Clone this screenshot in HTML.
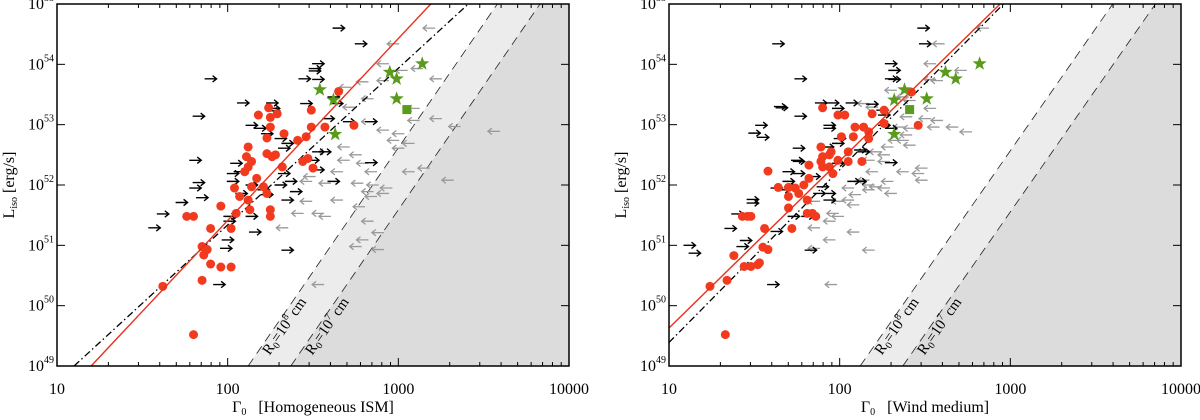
<!DOCTYPE html>
<html><head><meta charset="utf-8"><style>
html,body{margin:0;padding:0;background:#fff;overflow:hidden;}
svg{display:block;font-family:"Liberation Serif",serif;}
</style></head><body>
<svg id="chart" width="1200" height="420" viewBox="0 0 1200 420" xmlns="http://www.w3.org/2000/svg"></svg>
<script>
// ---- data (log10 Gamma0, log10 L_iso) ----
const xTicks = [10, 100, 1000, 10000];
const yTickExps = [49, 50, 51, 52, 53, 54, 55];
const panelTitles = ["[Homogeneous ISM]", "[Wind medium]"];

const leftRed = [[1.62,50.32],[1.80,49.52],[1.85,50.42],[1.85,50.98],[1.88,50.93],[1.86,50.84],[1.90,50.69],[1.96,50.64],[2.02,50.64],[1.90,51.28],[1.96,51.65],[2.02,51.28],[1.76,51.48],[1.80,51.48],[2.18,53.16],[2.24,53.28],[2.25,53.12],[2.29,53.18],[2.25,52.96],[2.23,52.78],[2.12,52.63],[2.11,52.47],[2.14,52.39],[2.12,52.30],[2.10,52.22],[2.17,52.11],[2.04,51.95],[2.07,51.81],[2.12,51.75],[2.13,51.59],[2.05,51.53],[2.14,51.97],[2.21,51.97],[2.23,51.86],[2.25,51.59],[2.25,51.48],[2.26,52.47],[2.28,52.50],[2.32,52.30],[2.33,52.85],[2.41,52.74],[2.46,52.80],[2.44,52.39],[2.47,52.44],[2.50,52.28],[2.49,53.24],[2.49,52.96],[2.57,52.96],[2.65,53.55],[2.74,52.99],[2.23,52.52]];
const leftBlack = [[2.65,54.60],[2.78,54.34],[1.90,53.76],[1.83,53.14],[2.53,54.01],[2.51,53.93],[2.51,53.89],[2.45,53.76],[2.53,53.75],[2.09,53.36],[2.26,53.36],[2.27,53.27],[2.27,53.23],[2.14,52.99],[2.19,52.94],[2.23,52.85],[2.31,52.77],[2.35,52.69],[2.33,52.61],[2.53,52.55],[2.05,52.36],[2.07,52.22],[2.03,52.19],[2.03,52.06],[2.08,51.86],[2.14,52.00],[2.21,51.92],[2.23,51.84],[2.33,52.19],[2.37,52.06],[2.31,52.00],[2.40,51.89],[2.35,51.75],[1.81,52.41],[1.83,52.04],[1.81,51.95],[1.85,51.79],[1.73,51.71],[1.62,51.52],[1.57,51.29],[2.01,51.48],[2.01,51.40],[2.14,51.48],[2.16,51.22],[2.00,51.09],[1.99,50.95],[2.35,50.92],[1.95,50.35],[2.62,52.06],[2.84,52.37],[2.62,53.46],[2.59,53.10],[2.71,53.05],[2.84,53.05],[2.57,52.55],[2.50,52.41],[2.53,52.25],[2.46,53.35],[2.64,53.35]];
const leftGray = [[3.18,54.60],[2.97,54.34],[2.91,54.01],[3.11,53.93],[3.02,53.90],[3.22,53.76],[2.91,53.73],[2.79,53.71],[2.69,53.62],[2.82,53.43],[2.71,53.29],[3.09,53.27],[3.22,53.10],[3.09,53.07],[3.33,52.97],[3.56,52.89],[2.91,52.91],[2.82,53.05],[3.00,52.85],[3.06,52.69],[3.00,52.61],[2.97,52.74],[2.68,52.63],[2.57,52.55],[2.75,52.50],[2.68,52.41],[2.79,52.36],[3.06,52.22],[3.15,52.28],[3.29,52.08],[2.84,52.22],[2.64,52.22],[2.48,52.14],[2.46,52.06],[2.57,52.03],[2.76,52.03],[2.85,52.00],[2.93,51.95],[2.82,51.89],[2.84,51.81],[2.64,51.75],[2.46,51.73],[2.77,51.64],[2.82,51.40],[2.53,51.53],[2.57,51.48],[2.32,51.29],[2.79,51.09],[2.88,51.21],[2.75,50.98],[2.88,50.93],[2.53,50.35],[2.41,51.53],[2.91,51.86]];
const leftStars = [[3.14,54.01],[2.95,53.87],[2.99,53.76],[2.54,53.58],[2.62,53.41],[2.99,53.43],[2.63,52.84]];
const leftSquare = [[3.05,53.25]];
const leftRedFit = [[1.20,49.0],[3.19,55.0]];
const leftDashFit = [[1.10,49.0],[3.41,55.0]];
const leftR8 = [[2.12,49.0],[3.58,55.0]];
const leftR7 = [[2.37,49.0],[3.83,55.0]];

const rightRed = [[1.24,50.32],[1.33,49.52],[1.34,50.42],[1.38,50.83],[1.44,50.65],[1.48,50.65],[1.52,50.68],[1.53,50.71],[1.55,50.97],[1.58,50.93],[1.56,51.28],[1.72,51.28],[1.43,51.48],[1.46,51.48],[1.48,51.48],[1.58,52.23],[1.64,51.96],[1.70,51.96],[1.70,51.81],[1.70,51.62],[1.76,51.86],[1.81,51.75],[1.74,51.95],[1.79,52.00],[1.82,52.11],[1.82,52.33],[1.90,53.28],[1.89,52.63],[1.90,52.47],[1.89,52.39],[1.94,52.50],[1.95,52.55],[1.99,52.41],[1.99,53.16],[2.03,53.16],[2.01,52.80],[2.05,52.55],[2.05,52.39],[2.08,52.80],[2.09,52.96],[2.14,52.96],[2.17,52.88],[2.17,52.77],[2.19,53.18],[2.26,53.24],[2.26,53.02],[2.13,52.39],[1.81,51.53],[1.84,51.53],[1.86,51.48],[1.90,52.30],[1.94,52.30],[1.96,52.19],[2.46,52.99],[2.42,53.54]];
const rightBlack = [[2.49,54.60],[1.64,54.34],[2.50,54.34],[1.77,53.76],[2.30,54.01],[2.32,53.90],[2.30,53.76],[2.32,53.75],[1.77,53.14],[1.54,52.99],[1.50,52.86],[1.55,52.79],[1.96,53.36],[2.07,53.36],[1.89,53.36],[1.99,53.27],[1.65,53.30],[1.66,53.28],[1.94,52.99],[1.94,52.94],[2.19,53.34],[2.25,53.24],[2.26,53.16],[2.26,52.99],[2.30,52.94],[2.00,52.77],[1.99,52.69],[1.93,52.63],[1.76,52.61],[2.12,52.58],[2.14,52.55],[1.75,52.41],[1.76,52.39],[1.99,52.36],[2.30,52.37],[1.70,52.22],[1.76,52.19],[1.70,52.06],[1.71,51.97],[1.67,51.92],[1.90,51.97],[1.88,51.86],[1.94,51.86],[1.94,51.75],[1.63,51.95],[1.49,51.76],[1.49,51.70],[1.40,51.52],[1.36,51.28],[1.45,51.08],[1.43,50.98],[1.12,51.00],[1.15,50.87],[1.83,50.92],[1.61,50.35],[2.08,52.06],[2.12,52.06],[1.73,51.48],[1.81,51.48],[1.63,51.23],[1.85,52.14]];
const rightGray = [[2.84,54.60],[2.58,54.34],[2.53,54.01],[2.53,53.75],[2.57,53.73],[2.71,53.90],[2.30,53.57],[2.37,53.46],[2.41,53.40],[2.53,53.27],[2.14,53.35],[2.19,53.29],[2.39,53.13],[2.50,53.10],[2.57,53.07],[2.55,52.96],[2.66,52.96],[2.74,52.88],[2.35,52.96],[2.41,52.94],[2.39,52.83],[2.37,52.74],[2.41,52.66],[2.32,52.74],[2.28,52.63],[2.21,52.55],[2.26,52.50],[2.17,52.41],[2.26,52.39],[2.19,52.22],[2.37,52.22],[2.48,52.28],[2.48,52.08],[2.46,52.19],[2.14,52.08],[2.17,52.00],[2.21,51.97],[2.26,51.95],[2.30,51.86],[2.05,51.95],[2.09,51.84],[2.05,51.75],[1.99,51.73],[2.08,51.67],[1.96,51.53],[1.99,51.48],[1.85,51.73],[1.85,51.29],[2.08,51.22],[1.94,51.09],[1.85,50.95],[2.17,50.92],[1.95,50.35],[2.28,52.06],[2.17,51.92],[1.94,51.40]];
const rightStars = [[2.82,54.01],[2.62,53.87],[2.68,53.76],[2.38,53.58],[2.32,53.41],[2.51,53.43],[2.32,52.84]];
const rightSquare = [[2.41,53.25]];
const rightRedFit = [[1.0,49.63],[2.94,55.0]];
const rightDashFit = [[1.0,49.39],[2.96,55.0]];
const rightR8 = [[2.12,49.0],[3.60,55.0]];
const rightR7 = [[2.37,49.0],[3.85,55.0]];

const NS = "http://www.w3.org/2000/svg";
const svg = document.getElementById("chart");
function mk(tag, attrs, parent) {
  const e = document.createElementNS(NS, tag);
  for (const k in attrs) e.setAttribute(k, attrs[k]);
  (parent || svg).appendChild(e);
  return e;
}
const TOP = 4, BOT = 366, XMIN = 1, XMAX = 4, YMIN = 49, YMAX = 55;

function drawPanel(idx, x0, x1, red, black, gray, stars, square, redFit, dashFit, r8, r7) {
  const g = mk("g", {});
  
  
  const sx = v => x0 + (v - XMIN) / (XMAX - XMIN) * (x1 - x0);
  const sy = v => BOT - (v - YMIN) / (YMAX - YMIN) * (BOT - TOP);
  const cp = mk("clipPath", {id: "clip" + idx}, g);
  mk("rect", {x: x0, y: TOP, width: x1 - x0, height: BOT - TOP}, cp);
  const plot = mk("g", {"clip-path": "url(#clip" + idx + ")"}, g);
  // line through segment, clipped to y range [YMIN, YMAX] and x >= XMIN
  function ext(seg) {
    const s = (seg[1][1] - seg[0][1]) / (seg[1][0] - seg[0][0]);
    let xa = seg[0][0] + (YMIN - seg[0][1]) / s;
    const xb = seg[0][0] + (YMAX - seg[0][1]) / s;
    let ya = YMIN;
    if (xa < XMIN) { xa = XMIN; ya = seg[0][1] + s * (XMIN - seg[0][0]); }
    return [[xa, ya], [xb, YMAX]];
  }
  const e8 = ext(r8), e7 = ext(r7);
  const shade1 = mk("polygon", {points: `${sx(e8[0][0])},${BOT} ${sx(e8[1][0])},${TOP} ${x1},${TOP} ${x1},${BOT}`, fill: "#ececec"}, plot);
  
  
  const shade2 = mk("polygon", {points: `${sx(e7[0][0])},${BOT} ${Math.min(sx(e7[1][0]), x1)},${TOP} ${x1},${TOP} ${x1},${BOT}`, fill: "#dcdcdc"}, plot);
  
  
  [[e8, 'r0-1e8-line'], [e7, 'r0-1e7-line']].forEach(([e, n]) => {
    const l = mk("line", {x1: sx(e[0][0]), y1: sy(e[0][1]), x2: sx(e[1][0]), y2: sy(e[1][1]), stroke: "#222", "stroke-width": 0.8, "stroke-dasharray": "9,6"}, plot);
    
    
  });
  gray.forEach(p => {
    const x = sx(p[0]), y = sy(p[1]);
    const a = mk("path", {d: `M${x+6},${y} H${x-6} M${x-2},${y-3.2} L${x-6},${y} L${x-2},${y+3.2}`, stroke: "#9a9a9a", "stroke-width": 1.3, fill: "none"}, plot);
    
    
  });
  black.forEach(p => {
    const x = sx(p[0]), y = sy(p[1]);
    const a = mk("path", {d: `M${x-6},${y} H${x+6} M${x+2},${y-3.2} L${x+6},${y} L${x+2},${y+3.2}`, stroke: "#000", "stroke-width": 1.4, fill: "none"}, plot);
    
    
  });
  const rf = ext(redFit), df = ext(dashFit);
  const dl = mk("line", {x1: sx(df[0][0]), y1: sy(df[0][1]), x2: sx(df[1][0]), y2: sy(df[1][1]), stroke: "#000", "stroke-width": 1.3, "stroke-dasharray": "7,3,1.5,3"}, plot);
  
  
  red.forEach(p => {
    const c = mk("circle", {cx: sx(p[0]), cy: sy(p[1]), r: 4.5, fill: "#f23a1e"}, plot);
    
    
  });
  const rl = mk("line", {x1: sx(rf[0][0]), y1: sy(rf[0][1]), x2: sx(rf[1][0]), y2: sy(rf[1][1]), stroke: "#e8301a", "stroke-width": 1.4}, plot);
  
  
  stars.forEach(p => {
    const x = sx(p[0]), y = sy(p[1]);
    let pts = [];
    for (let i = 0; i < 10; i++) {
      const r = i % 2 ? 3 : 7.5, a = -Math.PI / 2 + i * Math.PI / 5;
      pts.push((x + r * Math.cos(a)).toFixed(1) + "," + (y + r * Math.sin(a)).toFixed(1));
    }
    const s = mk("polygon", {points: pts.join(" "), fill: "#5a9a1c"}, plot);
    
    
  });
  square.forEach(p => {
    const s = mk("rect", {x: sx(p[0]) - 4.5, y: sy(p[1]) - 4.5, width: 9, height: 9, fill: "#5a9a1c"}, plot);
    
    
  });
  const ang = -Math.atan(((r8[1][1]-r8[0][1])/(r8[1][0]-r8[0][0])) * ((BOT-TOP)/6) / ((x1-x0)/3)) * 180 / Math.PI;
  [[r8, "8", 'r0-1e8-label'], [r7, "7", 'r0-1e7-label']].forEach(([seg, ex, n]) => {
    const s = (seg[1][1]-seg[0][1])/(seg[1][0]-seg[0][0]);
    const ly = 49.65, lx = seg[0][0] + (ly - seg[0][1]) / s;
    const t = mk("text", {transform: `translate(${sx(lx)+13},${sy(ly)+2}) rotate(${ang})`, "font-size": 15, "text-anchor": "middle", fill: "#000"}, g);
    t.innerHTML = `R<tspan font-size="10" dy="3">0</tspan><tspan dy="-3">=10</tspan><tspan font-size="10" dy="-6">${ex}</tspan><tspan dy="6"> cm</tspan>`;
    
    
  });
  const fr = mk("rect", {x: x0, y: TOP, width: x1 - x0, height: BOT - TOP, fill: "none", stroke: "#000", "stroke-width": 1.5}, g);
  
  
  for (let d = 1; d < 4; d++) for (let m = 1; m < 10; m++) {
    const X = sx(d + Math.log10(m)), L = m === 1 ? 8 : 4;
    mk("line", {x1: X, y1: BOT, x2: X, y2: BOT - L, stroke: "#000", "stroke-width": 1}, g);
    mk("line", {x1: X, y1: TOP, x2: X, y2: TOP + L, stroke: "#000", "stroke-width": 1}, g);
  }
  xTicks.forEach(v => {
    const t = mk("text", {x: sx(Math.log10(v)), y: 394, "font-size": 16, "text-anchor": "middle"}, g);
    t.textContent = v;
    
    
  });
  yTickExps.forEach(e => {
    const Y = sy(e);
    mk("line", {x1: x0, y1: Y, x2: x0 + 8, y2: Y, stroke: "#000", "stroke-width": 1}, g);
    mk("line", {x1: x1, y1: Y, x2: x1 - 8, y2: Y, stroke: "#000", "stroke-width": 1}, g);
    const t = mk("text", {x: x0 - 3, y: Y + 5, "font-size": 16, "text-anchor": "end"}, g);
    t.innerHTML = `10<tspan font-size="10" dy="-8">${e}</tspan>`;
    
    
  });
  const xt = mk("text", {x: (x0 + x1) / 2, y: 412, "font-size": 16, "text-anchor": "middle"}, g);
  xt.innerHTML = `Γ<tspan font-size="10" dy="3">0</tspan><tspan dy="-3" xml:space="preserve">   ${panelTitles[idx]}</tspan>`;
  
  
  const yt = mk("text", {transform: `translate(${x0 - 43},${(TOP + BOT) / 2}) rotate(-90)`, "font-size": 16, "text-anchor": "middle"}, g);
  yt.innerHTML = `L<tspan font-size="10" dy="3">iso</tspan><tspan dy="-3"> [erg/s]</tspan>`;
  
  
}
drawPanel(0, 57, 569, leftRed, leftBlack, leftGray, leftStars, leftSquare, leftRedFit, leftDashFit, leftR8, leftR7);
drawPanel(1, 669, 1181, rightRed, rightBlack, rightGray, rightStars, rightSquare, rightRedFit, rightDashFit, rightR8, rightR7);
</script>
</body></html>
